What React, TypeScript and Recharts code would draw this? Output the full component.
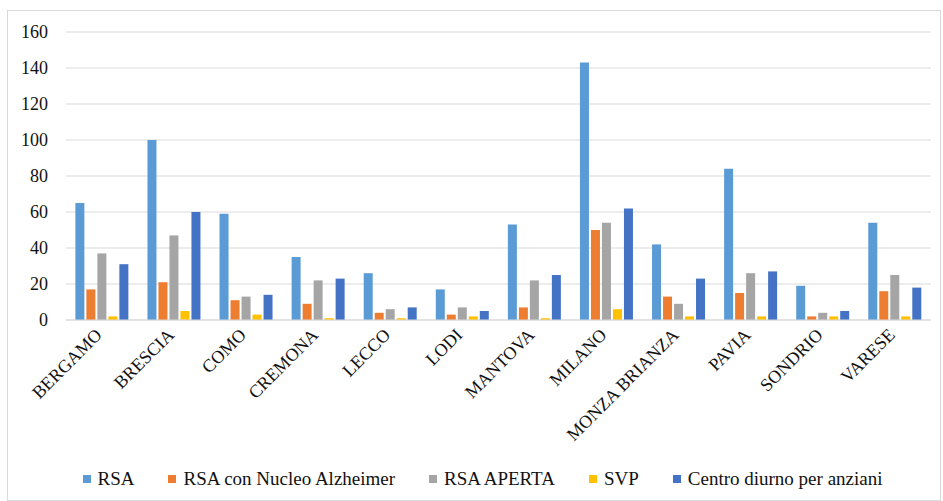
import { BarChart, Bar, XAxis, YAxis, CartesianGrid, Legend } from "recharts";

const province = [
  "BERGAMO",
  "BRESCIA",
  "COMO",
  "CREMONA",
  "LECCO",
  "LODI",
  "MANTOVA",
  "MILANO",
  "MONZA BRIANZA",
  "PAVIA",
  "SONDRIO",
  "VARESE",
];

const rsa = [65, 100, 59, 35, 26, 17, 53, 143, 42, 84, 19, 54];
const rsaAlzheimer = [17, 21, 11, 9, 4, 3, 7, 50, 13, 15, 2, 16];
const rsaAperta = [37, 47, 13, 22, 6, 7, 22, 54, 9, 26, 4, 25];
const svp = [2, 5, 3, 1, 1, 2, 1, 6, 2, 2, 2, 2];
const centroDiurno = [31, 60, 14, 23, 7, 5, 25, 62, 23, 27, 5, 18];

const yTicks = [0, 20, 40, 60, 80, 100, 120, 140, 160];

const series = [
  { key: "rsa", name: "RSA", color: "#5B9BD5" },
  { key: "alz", name: "RSA con Nucleo Alzheimer", color: "#ED7D31" },
  { key: "aperta", name: "RSA APERTA", color: "#A5A5A5" },
  { key: "svp", name: "SVP", color: "#FFC000" },
  { key: "centro", name: "Centro diurno per anziani", color: "#4472C4" },
];

const data = province.map((name, i) => ({
  name,
  rsa: rsa[i],
  alz: rsaAlzheimer[i],
  aperta: rsaAperta[i],
  svp: svp[i],
  centro: centroDiurno[i],
}));

const FONT = "'Times New Roman', Times, 'Liberation Serif', serif";

function AngledTick(props: any) {
  const { x, y, payload } = props;
  const tx = x + 1;
  const ty = y + 8;
  return (
    <text
      x={tx}
      y={ty}
      textAnchor="end"
      transform={`rotate(-45, ${tx}, ${ty})`}
      style={{ fontFamily: FONT, fontSize: 18 }}
      fill="#111"
    >
      {payload.value}
    </text>
  );
}

// keep the legend in series order, not alphabetical
function LegendContent() {
  return (
    <div
      style={{
        display: "flex",
        justifyContent: "center",
        alignItems: "center",
        fontFamily: FONT,
        fontSize: 19,
        color: "#111",
        gap: 34,
        paddingLeft: 34,
      }}
    >
      {series.map((s) => (
        <div key={s.key} style={{ display: "flex", alignItems: "center" }}>
          <span
            style={{
              display: "inline-block",
              width: 8,
              height: 8,
              background: s.color,
              marginRight: 7,
            }}
          />
          <span>{s.name}</span>
        </div>
      ))}
    </div>
  );
}

export default function App() {
  return (
    <div
      style={{
        position: "absolute",
        left: 0,
        top: 0,
        width: 943,
        height: 501,
        background: "#fff",
        fontFamily: FONT,
      }}
    >
      <div
        style={{
          position: "absolute",
          left: 7,
          top: 10,
          width: 932,
          height: 489,
          border: "1px solid #d9d9d9",
        }}
      />
      <BarChart
        width={943}
        height={501}
        data={data}
        margin={{ top: 32, right: 12, left: 0, bottom: 11 }}
        barCategoryGap="13%"
        barGap={2}
        style={{ fontFamily: FONT }}
      >
        <CartesianGrid vertical={false} stroke="#d9d9d9" />
        <XAxis
          dataKey="name"
          interval={0}
          height={148}
          tickLine={false}
          axisLine={{ stroke: "#d9d9d9" }}
          tick={<AngledTick />}
        />
        <YAxis
          width={66}
          domain={[0, 160]}
          ticks={yTicks}
          axisLine={false}
          tickLine={false}
          tickSize={0}
          tickMargin={18}
          tick={{ fontSize: 18, fill: "#111", style: { fontFamily: FONT } }}
        />
        <Legend verticalAlign="bottom" content={<LegendContent />} />
        {series.map((s) => (
          <Bar
            key={s.key}
            dataKey={s.key}
            name={s.name}
            fill={s.color}
            isAnimationActive={false}
          />
        ))}
      </BarChart>
    </div>
  );
}
